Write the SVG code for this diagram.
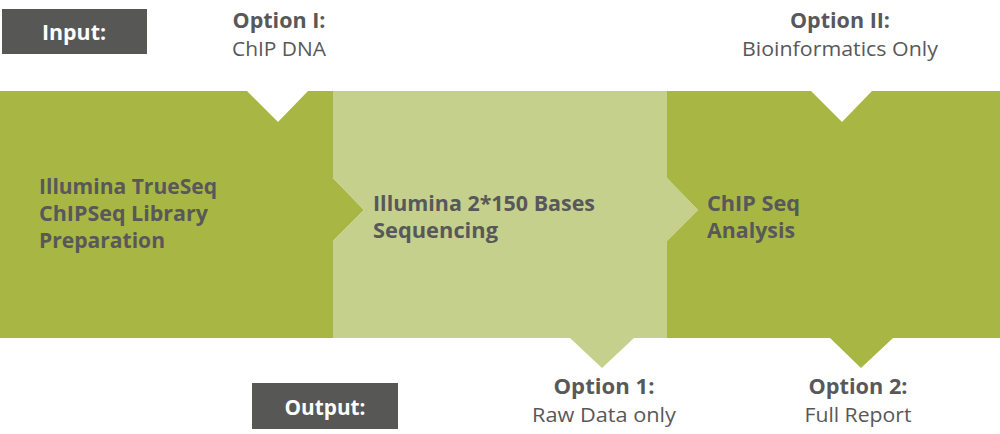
<svg xmlns="http://www.w3.org/2000/svg" width="1000" height="434" viewBox="0 0 1000 434">
<style>
.dark{fill:#a8b644}
.light{fill:#c5d08c}
.lbl{fill:#575756}
.t{font-family:"Open Sans","Liberation Sans",sans-serif;fill:#58585a}
.b{font-weight:700}
.main{font-size:21px;font-weight:700}
.opt{font-size:20.5px}
.w{fill:#ffffff;font-family:"Open Sans","Liberation Sans",sans-serif;font-weight:700;font-size:21px}
</style>
<rect width="1000" height="434" fill="#ffffff"/>
<g id="input-label">
<rect class="lbl" x="2" y="9" width="145" height="45"/>
<text class="w" x="74" y="40" text-anchor="middle" textLength="64" lengthAdjust="spacingAndGlyphs">Input:</text>
</g>
<g id="output-label">
<rect class="lbl" x="252" y="383" width="146" height="46"/>
<text class="w" x="325" y="415" text-anchor="middle" textLength="81" lengthAdjust="spacingAndGlyphs">Output:</text>
</g>
<g id="node-library">
<path class="dark" d="M0,91 H247 L278,122 L308,91 H333 V178 L364,210 L333,241 V338 H0 Z"/>
<text class="t main" x="39" y="194" textLength="178" lengthAdjust="spacingAndGlyphs">Illumina TrueSeq</text>
<text class="t main" x="39" y="221" textLength="169" lengthAdjust="spacingAndGlyphs">ChIPSeq Library</text>
<text class="t main" x="39" y="248" textLength="126" lengthAdjust="spacingAndGlyphs">Preparation</text>
</g>
<g id="node-sequencing">
<path class="light" d="M333,91 H667 V178 L698,210 L667,241 V338 H634 L602,368 L570,338 H333 V241 L364,210 L333,178 Z"/>
<text class="t main" x="373" y="211" textLength="222" lengthAdjust="spacingAndGlyphs">Illumina 2*150 Bases</text>
<text class="t main" x="373" y="238" textLength="125" lengthAdjust="spacingAndGlyphs">Sequencing</text>
</g>
<g id="node-analysis">
<path class="dark" d="M667,91 H811 L842,122 L872,91 H1000 V338 H893 L861,368 L830,338 H667 V241 L698,210 L667,178 Z"/>
<text class="t main" x="707" y="211" textLength="93" lengthAdjust="spacingAndGlyphs">ChIP Seq</text>
<text class="t main" x="707" y="238" textLength="88" lengthAdjust="spacingAndGlyphs">Analysis</text>
</g>
<g id="connectors"></g>
<g id="option-i">
<text class="t opt b" x="279" y="28" text-anchor="middle" textLength="93" lengthAdjust="spacingAndGlyphs">Option I:</text>
<text class="t opt" x="279" y="55.5" text-anchor="middle" textLength="94" lengthAdjust="spacingAndGlyphs">ChIP DNA</text>
</g>
<g id="option-ii">
<text class="t opt b" x="840" y="28" text-anchor="middle" textLength="100" lengthAdjust="spacingAndGlyphs">Option II:</text>
<text class="t opt" x="840" y="55.5" text-anchor="middle" textLength="196" lengthAdjust="spacingAndGlyphs">Bioinformatics Only</text>
</g>
<g id="option-1">
<text class="t opt b" x="604" y="394" text-anchor="middle" textLength="101" lengthAdjust="spacingAndGlyphs">Option 1:</text>
<text class="t opt" x="604" y="422" text-anchor="middle" textLength="144" lengthAdjust="spacingAndGlyphs">Raw Data only</text>
</g>
<g id="option-2">
<text class="t opt b" x="858" y="394" text-anchor="middle" textLength="99" lengthAdjust="spacingAndGlyphs">Option 2:</text>
<text class="t opt" x="858" y="422" text-anchor="middle" textLength="107" lengthAdjust="spacingAndGlyphs">Full Report</text>
</g>
</svg>
